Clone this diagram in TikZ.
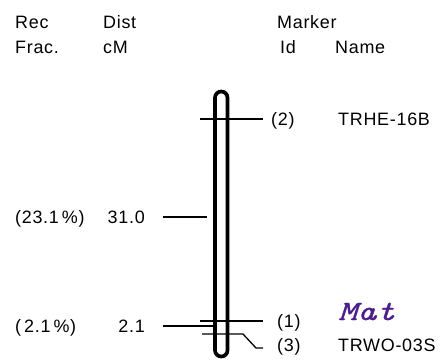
\documentclass[tikz,border=0pt]{standalone}
\usepackage{fontspec}
\setmainfont{Liberation Sans}[LetterSpace=4]
\newfontfamily\matfont{Latin Modern Mono}[FakeBold=1]
\definecolor{matpurple}{RGB}{75,30,140}
\begin{document}
\begin{tikzpicture}[x=1bp,y=-1bp,
  txt/.style={font=\fontsize{18}{20}\selectfont, inner sep=0pt, anchor=base west},
  txtr/.style={txt, anchor=base east},
  matlbl/.style={font=\matfont\itshape\fontsize{28}{30}\selectfont, text=matpurple, inner sep=0pt, anchor=base west},
  tick/.style={line width=1.3bp},
  chrom/.style={line width=3.7bp, rounded corners=6.25bp}]
\useasboundingbox[fill=white] (0,0) rectangle (442,360);
% headers
\node[txt] (rec) at (15,28) {Rec};
\node[txt] (frac) at (15,53) {Frac.};
\node[txt] (dist) at (103,28) {Dist};
\node[txt] (cm) at (103,53) {cM};
\node[txt] (marker) at (277,28) {Marker};
\node[txt] (id) at (280,53) {Id};
\node[txt] (name) at (335,53) {Name};
% chromosome
\draw[chrom] (215,91.5) rectangle (227.5,356.5);
% marker (2)
\coordinate (m2a) at (200,119);
\coordinate (m2b) at (263,119);
\draw[tick] (m2a) -- (m2b);
\node[txt] (id2) at (271,125) {(2)};
\node[txt] (nm2) at (338,125) {TRHE-16B};
% interval 31.0
\coordinate (d31a) at (163,217);
\coordinate (d31b) at (207,217);
\draw[tick] (d31a) -- (d31b);
\node[txt] (rf31) at (15,223) {(23.1\,\%)};
\node[txtr] (cm31) at (145,223) {31.0};
% interval 2.1
\coordinate (d21a) at (163,326);
\coordinate (d21b) at (213,326);
\draw[tick] (d21a) -- (d21b);
\node[txt] (rf21) at (15,332) {(\,2.1\,\%)};
\node[txtr] (cm21) at (145,332) {2.1};
% marker (1)
\coordinate (m1a) at (200,321);
\coordinate (m1b) at (263,321);
\draw[tick] (m1a) -- (m1b);
\node[txt] (id1) at (277,327) {(1)};
\node[matlbl] (nm1) at (338,320) {\scalebox{1.3}[1]{Mat}};
% marker (3)
\coordinate (m3a) at (202,334);
\coordinate (m3k1) at (243,334);
\coordinate (m3k2) at (256,348);
\coordinate (m3b) at (263,348);
\draw[tick] (m3a) -- (m3k1) -- (m3k2) -- (m3b);
\node[txt] (id3) at (277,351) {(3)};
\node[txt] (nm3) at (338,351) {TRWO-03S};
\end{tikzpicture}
\end{document}
